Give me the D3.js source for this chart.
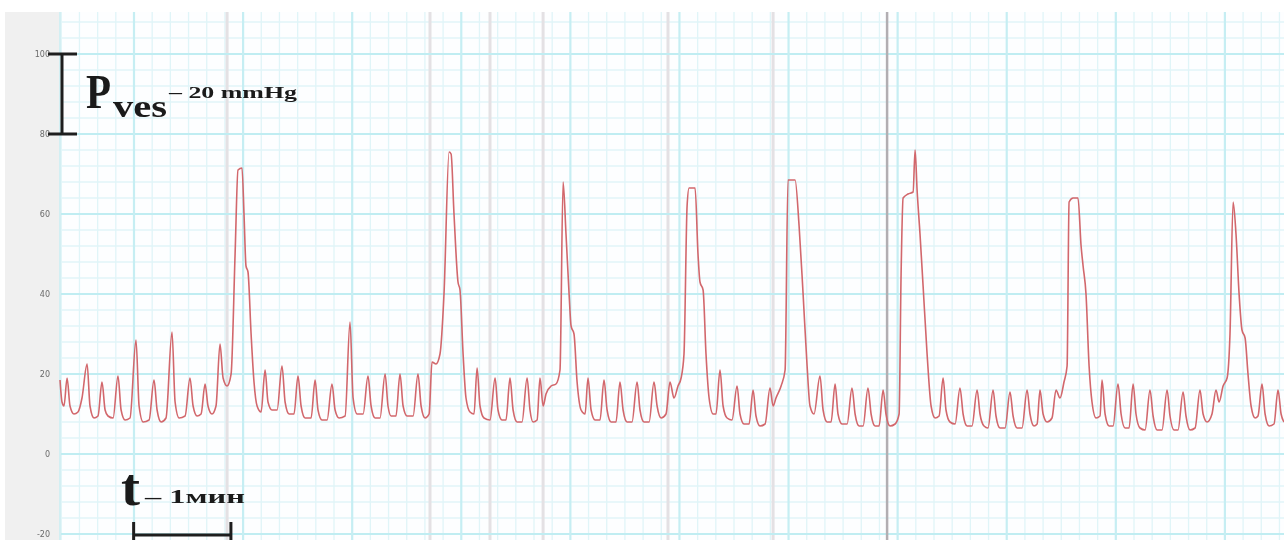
<!DOCTYPE html>
<html>
<head>
<meta charset="utf-8">
<script src="https://cdn.jsdelivr.net/npm/d3@7.9.0/dist/d3.min.js"></script>
<style>
  html, body { margin: 0; padding: 0; background: #fff; }
  svg { display: block; filter: blur(0.45px); }
</style>
</head>
<body>
<div id="chart"></div>
<script>
// ===============================
// DATA
// ===============================
// time in seconds from the left edge of the strip, pressure in mmHg
const traceTime = [
  0, 1.1, 2.2, 3.9, 5.5, 7.7, 9.9, 12.1, 14.9, 16.5, 18.7, 20.9, 23.1, 24.8, 26.4, 29.2,
  31.9, 33.6, 35.8, 38.5, 41.8, 43.5, 45.7, 49, 51.7, 53.4, 55.6, 58.3, 61.6, 63.3, 65.5, 68.8,
  71.5, 73.2, 75.4, 77.6, 79.8, 81.4, 83.6, 85.8, 88, 89.7, 91.9, 94.1, 96.3, 97.9, 100.1, 101.2,
  102.3, 103.4, 105.1, 106.7, 108.4, 110.6, 112.8, 114.4, 116.6, 119.4, 122.1, 123.8, 126, 128.7,
  130.9, 132.6, 134.8, 138.1, 140.3, 141.9, 144.1, 146.9, 149.6, 151.3, 153.5, 156.8, 159.5, 161.2,
  163.4, 166.7, 169.4, 171.1, 173.3, 176, 178.8, 180.4, 182.1, 184.8, 187, 188.7, 190.9, 194.2,
  196.9, 198.6, 200.8, 203, 204.6, 206.8, 209, 211.2, 214, 215.1, 216.7, 218.9, 220, 221.7,
  223.3, 225.5, 227.7, 229.4, 231, 233.2, 236.5, 239.3, 240.9, 243.1, 245.3, 247.5, 249.2, 251.4,
  254.1, 256.9, 258.5, 260.2, 262.4, 264, 265.7, 267.3, 270.1, 272.8, 275, 276.7, 278.3, 280,
  281.1, 282.7, 284.4, 286.6, 288.8, 290.4, 292.1, 294.3, 297, 299.2, 300.9, 303.1, 305.8, 308,
  309.7, 311.9, 314.6, 317.4, 319, 321.2, 324, 326.7, 328.4, 330.6, 333.3, 335.5, 337.7, 339.9,
  341.6, 343.2, 344.9, 346, 349.3, 350.9, 352, 353.7, 355.3, 357, 359.2, 360.8, 363, 364.7,
  366.9, 369.6, 372.4, 374, 376.2, 379, 381.2, 382.8, 385, 387.8, 390.5, 392.2, 393.8, 396.6,
  398.8, 400.4, 404.3, 406.5, 408.7, 410.9, 412.5, 414.7, 418, 419.7, 421.9, 424.1, 426.3, 427.9,
  430.1, 432.9, 435.6, 437.3, 439.5, 441.7, 444.4, 446.1, 448.3, 450.5, 452.7, 454.3, 456.5, 459.3,
  461.5, 462.6, 463.7, 466.4, 469.2, 470.3, 471.4, 473, 474.7, 476.9, 479.1, 481.3, 483.5, 485.7,
  487.3, 489.5, 492.3, 495, 496.7, 498.9, 501.6, 504.4, 506, 508.2, 510.4, 513.2, 514.8, 517,
  519.8, 522.5, 524.2, 526.4, 529.1, 531.9, 533.5, 535.7, 537.4, 539, 540.7, 542.9, 545.6, 547.8,
  550, 552.2, 553.9, 555, 557.2, 559.9, 561.6, 562.7, 564.3, 566, 567.6, 569.8, 572, 573.1,
  574.8, 577, 579.2, 581.9, 583.6, 585.8, 588, 590.2, 591.8, 594, 596.8, 599.5, 601.2, 603.4,
  606.1, 608.9, 610.5, 612.7, 614.9, 617.7, 619.3, 621.5, 624.3, 627, 628.7, 630.9, 633.6, 635.8,
  637.5, 639.7, 641.9, 643.5, 645.2, 646.8, 648.5, 650.1, 651.8, 653.4, 655.1, 657.3, 658.9, 661.1,
  662.8, 665, 667.7, 669.9, 671.6, 673.2
];
const tracePressure = [
  18.5, 13, 12, 19, 12, 10, 10.5, 14, 22.5, 12, 9, 9.5, 18, 11, 9.5, 9,
  19.5, 11, 8.5, 9, 28.5, 12, 8, 8.5, 18.5, 11, 8, 9, 30.5, 13, 9, 9.5,
  19, 12, 9.5, 10, 17.5, 12, 10, 12, 27.5, 19, 17, 20, 50, 71, 71.5, 60,
  47, 45.5, 30, 18, 12, 10.5, 21, 13, 11, 11, 22, 13, 10, 10,
  19.5, 12, 9, 9, 18.5, 11, 8.5, 8.5, 17.5, 11, 9, 9.5, 33, 14,
  10, 10, 19.5, 12, 9, 9, 20, 12, 9.5, 9.5, 20, 12, 9.5, 9.5,
  20, 12, 9, 10, 23, 22.5, 25, 40, 75.5, 75, 60, 43, 41, 25,
  14, 10.5, 10, 21.5, 12, 9, 8.5, 19, 11, 8.5, 8.5, 19, 11, 8,
  8, 19, 11, 8, 8.5, 19, 12, 15, 17, 17.5, 21, 68, 55, 40,
  32, 30, 18, 11, 10, 19, 11, 8.5, 8.5, 18.5, 11, 8, 8, 18,
  11, 8, 8, 18, 11, 8, 8, 18, 12, 9, 10, 18, 14, 17,
  19, 25, 62, 66.5, 66.5, 50, 43, 41, 25, 14, 10, 10, 21, 12,
  9, 8.5, 17, 10, 7.5, 7.5, 16, 9.5, 7, 7.5, 16.5, 12, 14, 17,
  21, 68.5, 68.5, 57, 40, 22, 12, 10, 19.5, 11, 8, 8, 17.5, 10,
  7.5, 7.5, 16.5, 10, 7, 7, 16.5, 10, 7, 7, 16, 10, 7, 7.5,
  10, 45, 64, 65, 65.5, 76, 66, 55, 42, 25, 12, 9, 9.5, 19,
  11, 8, 7.5, 16.5, 10, 7, 7, 16, 10, 7, 6.5, 16, 9.5, 6.5,
  6.5, 15.5, 9.5, 6.5, 6.5, 16, 10, 7, 7.5, 16, 10, 8, 9, 16,
  14, 18, 22, 63, 64, 64, 52, 47, 40, 22, 13, 9, 9.5, 18.5,
  10, 7, 7, 17.5, 10, 6.5, 6.5, 17.5, 10, 6.5, 6, 16, 9.5, 6,
  6, 16, 9.5, 6, 6, 15.5, 9.5, 6, 6.5, 16, 10, 8, 10, 16,
  13, 17, 19, 30, 63, 55, 40, 31, 29, 20, 12, 9, 9.5, 17.5,
  10, 7, 7.5, 16, 10, 8
];

// pressure ticks (mmHg)
const pressureTicks = [-20, 0, 20, 40, 60, 80, 100];
const pressureMinorStep = 4;
// paper grid: one major division = 60 s, offset of first major line
const gridOriginTime = 40.7;
const gridMajorStep = 60;
const gridMinorStep = 10;
// event marks on the paper (s)
const eventTimes = [91.9, 203.5, 236.5, 265.7, 334.4, 392.2];
const eventTimeDark = [454.9];
// calibration bars
const pressureBar = [80, 100];
const pressureBarLabel = ["P", "ves", "– 20 mmHg"];
const timeBar = [40.5, 94];
const timeBarLabel = ["t", "– 1мин"];

// ===============================
// LAYOUT
// ===============================
const width = 1284, height = 540;
const plot = { left: 60, right: 1284, top: 12, bottom: 540 };

const svg = d3.select("#chart").append("svg")
  .attr("width", width)
  .attr("height", height);

const x = d3.scaleLinear()
  .domain([0, 673.2])
  .range([plot.left, plot.right]);

const y = d3.scaleLinear()
  .domain([-21.5, 110.5])
  .range([plot.bottom, plot.top]);

// left strip
svg.append("rect")
  .attr("x", 5).attr("y", plot.top)
  .attr("width", plot.left - 5).attr("height", plot.bottom - plot.top)
  .attr("fill", "#f0f0f0");

svg.append("rect")
  .attr("x", plot.left).attr("y", plot.top)
  .attr("width", plot.right - plot.left).attr("height", plot.bottom - plot.top)
  .attr("fill", "#fdfeff");

// ===============================
// GRID
// ===============================
const grid = svg.append("g").attr("class", "grid");

const offMajor = t => {
  const r = (((t - gridOriginTime) % gridMajorStep) + gridMajorStep) % gridMajorStep;
  return r > 0.5 && r < gridMajorStep - 0.5;
};
const minorY = d3.range(-20, 110.5, pressureMinorStep).filter(v => !pressureTicks.includes(v));
const minorX = d3.range(gridOriginTime - 40, 673.2, gridMinorStep).filter(offMajor);
const majorX = d3.range(gridOriginTime, 673.2, gridMajorStep);

grid.append("g")
  .selectAll("line")
  .data(minorY)
  .join("line")
  .attr("x1", plot.left).attr("x2", plot.right)
  .attr("y1", d => y(d)).attr("y2", d => y(d))
  .attr("stroke", "#e0f5f8").attr("stroke-width", 1.3);

grid.append("g")
  .selectAll("line")
  .data(minorX)
  .join("line")
  .attr("y1", plot.top).attr("y2", plot.bottom)
  .attr("x1", d => x(d)).attr("x2", d => x(d))
  .attr("stroke", "#e0f5f8").attr("stroke-width", 1.3);

grid.append("g")
  .selectAll("line")
  .data(eventTimes)
  .join("line")
  .attr("y1", plot.top).attr("y2", plot.bottom)
  .attr("x1", d => x(d)).attr("x2", d => x(d))
  .attr("stroke", "#e4e1e4").attr("stroke-width", 3);

grid.append("g")
  .selectAll("line")
  .data(pressureTicks)
  .join("line")
  .attr("x1", plot.left).attr("x2", plot.right)
  .attr("y1", d => y(d)).attr("y2", d => y(d))
  .attr("stroke", "#c0edf2").attr("stroke-width", 2.2);

grid.append("g")
  .selectAll("line")
  .data(majorX)
  .join("line")
  .attr("y1", plot.top).attr("y2", plot.bottom)
  .attr("x1", d => x(d)).attr("x2", d => x(d))
  .attr("stroke", "#c6eef3").attr("stroke-width", 2.2);

grid.append("line")
  .attr("y1", plot.top).attr("y2", plot.bottom)
  .attr("x1", plot.left).attr("x2", plot.left)
  .attr("stroke", "#d3eff3").attr("stroke-width", 2);

grid.append("g")
  .selectAll("line")
  .data(eventTimeDark)
  .join("line")
  .attr("y1", plot.top).attr("y2", plot.bottom)
  .attr("x1", d => x(d)).attr("x2", d => x(d))
  .attr("stroke", "#b2aeb2").attr("stroke-width", 2.5);

// y tick labels
svg.append("g")
  .selectAll("text")
  .data(pressureTicks)
  .join("text")
  .attr("x", 50)
  .attr("y", d => y(d) + 3)
  .attr("text-anchor", "end")
  .attr("font-family", "DejaVu Sans, sans-serif")
  .attr("font-size", 8)
  .attr("fill", "#6a6a6a")
  .text(d => d);

// ===============================
// TRACE
// ===============================
const points = traceTime.map((t, i) => [t, tracePressure[i]]);

svg.append("path")
  .datum(points)
  .attr("fill", "none")
  .attr("stroke", "#d2676c")
  .attr("stroke-width", 1.6)
  .attr("stroke-linejoin", "round")
  .attr("d", d3.line()
    .x(d => x(d[0]))
    .y(d => y(d[1]))
    .curve(d3.curveMonotoneX));

// ===============================
// CALIBRATION BARS
// ===============================
const bars = svg.append("g")
  .attr("stroke", "#1e1e1e")
  .attr("stroke-width", 3);

const pbX = 62;
bars.append("line")
  .attr("x1", pbX).attr("x2", pbX)
  .attr("y1", y(pressureBar[1])).attr("y2", y(pressureBar[0]));
pressureBar.forEach(v => bars.append("line")
  .attr("x1", pbX - 14).attr("x2", pbX + 15)
  .attr("y1", y(v)).attr("y2", y(v)));

const tbY = 535;
bars.append("line")
  .attr("x1", x(timeBar[0])).attr("x2", x(timeBar[1]))
  .attr("y1", tbY).attr("y2", tbY);
timeBar.forEach(t => bars.append("line")
  .attr("x1", x(t)).attr("x2", x(t))
  .attr("y1", tbY - 13).attr("y2", tbY + 6));

const label = svg.append("g")
  .attr("font-family", "Liberation Serif, Times New Roman, serif")
  .attr("font-weight", "bold")
  .attr("fill", "#1a1a1a");

label.append("text").attr("x", 86).attr("y", 108)
  .attr("font-size", 48).attr("textLength", 25).attr("lengthAdjust", "spacingAndGlyphs")
  .text(pressureBarLabel[0]);
label.append("text").attr("x", 113).attr("y", 117)
  .attr("font-size", 31).attr("textLength", 54).attr("lengthAdjust", "spacingAndGlyphs")
  .text(pressureBarLabel[1]);
label.append("text").attr("x", 169).attr("y", 98)
  .attr("font-size", 17).attr("textLength", 128).attr("lengthAdjust", "spacingAndGlyphs")
  .text(pressureBarLabel[2]);

label.append("text").attr("x", 121).attr("y", 505)
  .attr("font-size", 52).attr("textLength", 19).attr("lengthAdjust", "spacingAndGlyphs")
  .text(timeBarLabel[0]);
label.append("text").attr("x", 145).attr("y", 503)
  .attr("font-size", 19).attr("textLength", 100).attr("lengthAdjust", "spacingAndGlyphs")
  .text(timeBarLabel[1]);
</script>
</body>
</html>
